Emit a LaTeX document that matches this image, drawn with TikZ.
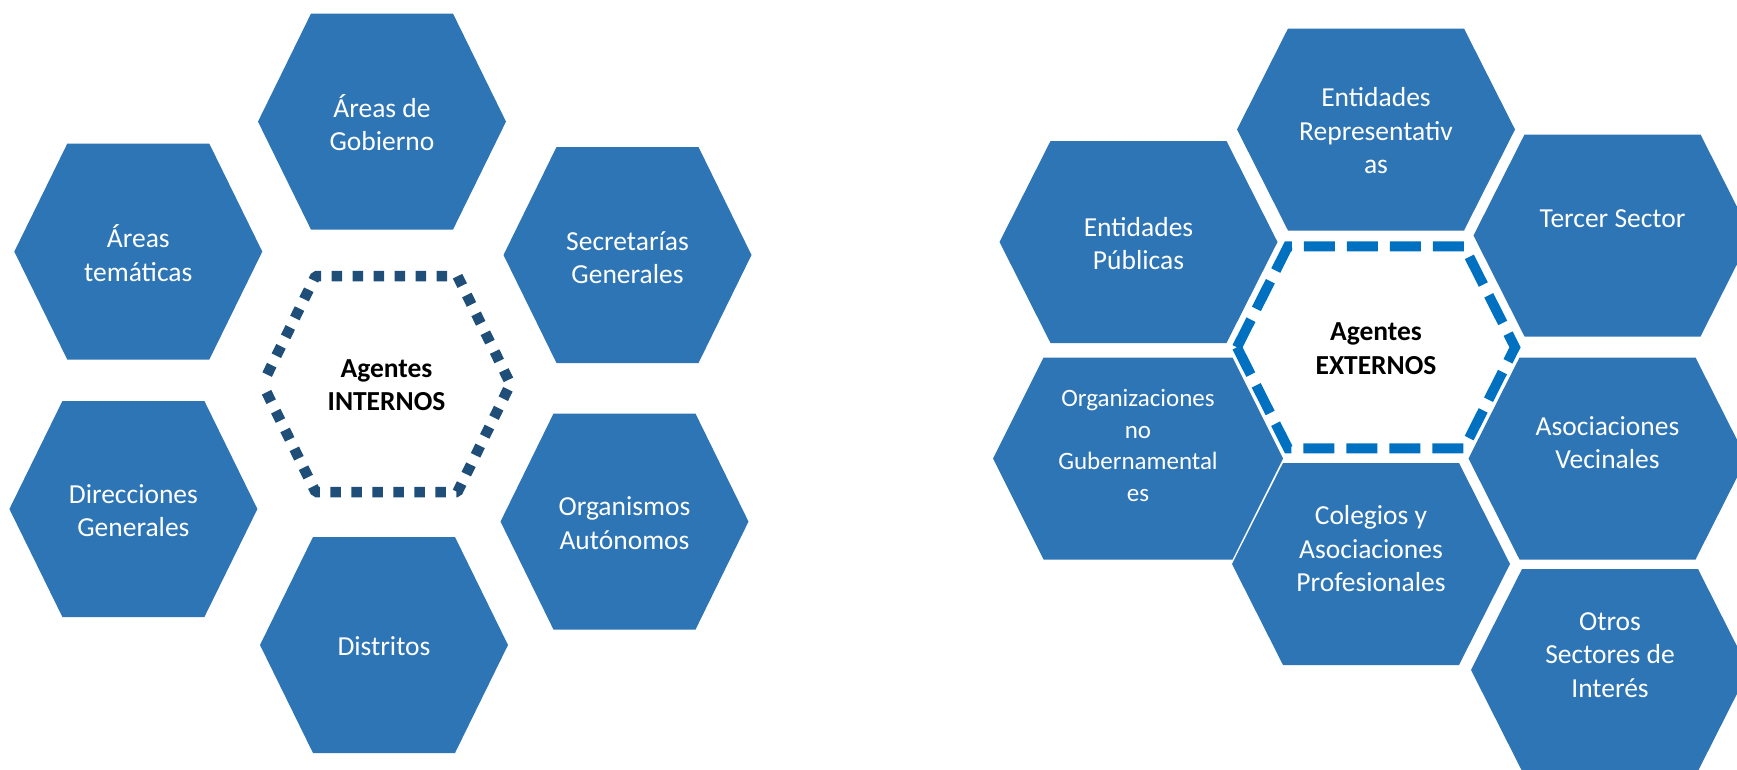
\documentclass[tikz,border=0pt]{standalone}
\usepackage{fontspec}
\setmainfont{Carlito}
\definecolor{azulhex}{HTML}{2E75B6}
\definecolor{azuloscuro}{HTML}{1F4E79}
\definecolor{azulvivo}{HTML}{0070C0}
\begin{document}
\begin{tikzpicture}[x=1pt, y=-1pt,
    hexagono/.style={fill=azulhex},
    etiqueta/.style={text=white, align=center, inner sep=0pt, font=\fontsize{27.5}{33.5}\selectfont},
    central/.style={text=black, align=center, inner sep=0pt, font=\fontsize{27.5}{33.5}\selectfont\bfseries},
    punteado/.style={draw=azuloscuro, line width=10.5pt, line join=bevel, dash pattern=on 10.5pt off 10.5pt, dash phase=10.5pt},
    discontinuo/.style={draw=azulvivo, line width=10pt, dash pattern=on 31pt off 12pt}]

    % Marco de la figura
    \clip (0,0) rectangle (1737,769);

    % Agentes internos
    \foreach \x/\y/\ty/\nombre/\texto in {
        382/121.6/122.6/gobierno/{Áreas de\\Gobierno},
        138.3/251.6/253.3/tematicas/{Áreas\\temáticas},
        627.5/255/257.5/secretarias/{Secretarías\\Generales},
        133.4/509/510.8/direcciones/{Direcciones\\Generales},
        624.5/521.6/523.3/organismos/{Organismos\\Autónomos},
        384/645/646.4/distritos/{Distritos}} {
        \fill[hexagono, shift={(\x,\y)}] (-124,0) -- (-71,-108) -- (71,-108) -- (124,0) -- (71,108) -- (-71,108) -- cycle;
        \node[etiqueta] (\nombre) at (\x,\ty) {\texto};
    }

    % Hexágono central punteado
    \draw[punteado] (386.5,384) ++(-124,0) -- ++(53,-108) -- ++(142,0) -- ++(53,108) -- ++(-53,108) -- ++(-142,0) -- cycle;
    \node[central] (internos) at (386.5,385.4) {Agentes\\INTERNOS};

    % Agentes externos
    \foreach \x/\y/\ty/\nombre/\texto in {
        1376/129.5/131/representativas/{Entidades\\Representativ\\as},
        1138.5/242/243.5/publicas/{Entidades\\Públicas},
        1612.5/235.5/219/tercer/{Tercer Sector},
        1607.5/458.5/442.6/vecinales/{Asociaciones\\Vecinales},
        1371/564/549/colegios/{Colegios y\\Asociaciones\\Profesionales},
        1610/670/655/otros/{Otros\\Sectores de\\Interés}} {
        \fill[hexagono, shift={(\x,\y)}] (-139,0) -- (-88,-101) -- (88,-101) -- (139,0) -- (88,101) -- (-88,101) -- cycle;
        \node[etiqueta] (\nombre) at (\x,\ty) {\texto};
    }

    % Hexágono más ancho, con letra más pequeña
    \fill[hexagono, shift={(1138,458.5)}] (-145,0) -- (-94.5,-101) -- (94.5,-101) -- (145,0) -- (94.5,101) -- (-94.5,101) -- cycle;
    \node[etiqueta, font=\fontsize{25}{31.5}\selectfont] (ong) at (1138,445.5) {Organizaciones\\no\\Gubernamental\\es};

    % Hexágono central discontinuo
    \draw[discontinuo] (1376,347.3) ++(-139,0) -- ++(51,-101) -- ++(176,0) -- ++(51,101) -- ++(-51,101) -- ++(-176,0) -- cycle;
    \node[central] (externos) at (1376,348.7) {Agentes\\EXTERNOS};
\end{tikzpicture}
\end{document}
